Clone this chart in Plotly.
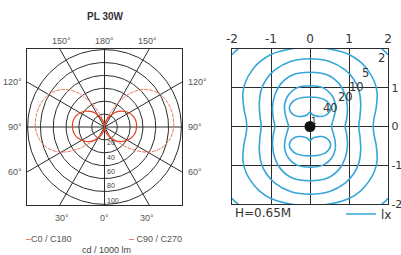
import numpy as np
import plotly.graph_objects as go

# ---------------- data: left chart (polar intensity, cd / 1000 lm) ----------------
angles_deg = [0, 10, 20, 30, 40, 50, 60, 70, 80, 90, 100, 110, 120, 130, 140, 150, 160, 170, 180]
c0_c180 = [0, 5, 12, 20, 28, 35, 41, 46, 49, 50, 50, 48, 44, 38, 31, 22, 13, 6, 0]
c90_c270 = [0, 3, 8, 15, 28, 52, 78, 95, 104, 108, 108, 106, 101, 90, 72, 45, 20, 6, 0]
ring_values = [20, 40, 60, 80, 100, 120]
ring_labels = ["20", "40", "60", "80", "100"]
spoke_angles = [0, 30, 60, 90, 120, 150, 180, 210, 240, 270, 300, 330]
R_MAX = 121

# ---------------- data: right chart (isolux, metres) ----------------
x_ticks = [-2, -1, 0, 1, 2]
x_ticktext = ["-2", "-1", "0", "1", "2"]
y_ticks = [-2, -1, 0, 1]
y_ticktext = ["-2", "-1", "0", "1"]
# upper-right quadrant of each isolux line (from x=0 at top to y=0 at the right)
c5_x = [0, 0.5, 1.0, 1.3, 1.5, 1.65, 1.72, 1.7, 1.64, 1.62]
c5_y = [2.04, 2.0, 1.86, 1.66, 1.43, 1.16, 0.88, 0.5, 0.2, 0]
c10_x = [0, 0.5, 0.9, 1.12, 1.25, 1.3, 1.28, 1.25]
c10_y = [1.75, 1.68, 1.46, 1.22, 0.95, 0.6, 0.25, 0]
c20_x = [0, 0.45, 0.75, 0.9, 0.96, 0.94, 0.9]
c20_y = [1.4, 1.33, 1.1, 0.82, 0.5, 0.2, 0]
c30_x = [0, 0.35, 0.55, 0.65, 0.64, 0.58, 0.55]
c30_y = [1.05, 0.99, 0.82, 0.58, 0.35, 0.12, 0]
# upper kidney (right half), from the notch at x=0 round to the top at x=0
c40_x = [0, 0.06, 0.15, 0.3, 0.42, 0.5, 0.53, 0.48, 0.36, 0.18, 0]
c40_y = [0.37, 0.31, 0.27, 0.26, 0.3, 0.38, 0.48, 0.6, 0.7, 0.75, 0.76]
# corner arc (top-right) of the 2 lx line
c2_x = [1.84, 1.92, 2.0]
c2_y = [2.0, 1.94, 1.85]
level_labels = ["2", "5", "10", "20", "40"]
level_label_x = [1.83, 1.43, 1.2, 0.91, 0.535]
level_label_y = [1.78, 1.38, 1.03, 0.77, 0.49]

RED = "#e2401f"
RED2 = "#ec7a5f"
BLUE = "#36a6d8"
GRID = "#2b2b2b"
LFONT = "Liberation Sans, Arial, sans-serif"
RFONT = "DejaVu Sans, Verdana, sans-serif"

W, H = 401, 255
fig = go.Figure()

# ---------- left chart: grid ----------
t = np.linspace(0, 2 * np.pi, 241)
cx, cy = [], []
for r in ring_values:
    cx += list(r * np.sin(t)) + [None]
    cy += list(r * np.cos(t)) + [None]
fig.add_trace(go.Scatter(x=cx, y=cy, mode="lines", line=dict(color=GRID, width=1),
                         hoverinfo="skip", showlegend=False, xaxis="x", yaxis="y"))
sx, sy = [], []
lab_annots = []
for a in spoke_angles:
    ar = np.radians(a)
    s, c = np.sin(ar), -np.cos(ar)
    L = R_MAX / max(abs(s), abs(c))
    sx += [0, L * s, None]
    sy += [0, L * c, None]
    txt = f"{min(a, 360 - a)}°"
    if abs(s) > abs(c) + 1e-6:
        side_right = s > 0
        lab_annots.append(dict(x=L * s, y=L * c, xref="x", yref="y", text=txt, showarrow=False,
                               xanchor="left" if side_right else "right",
                               xshift=4 if side_right else -3, yanchor="middle",
                               font=dict(family=LFONT, size=9, color="#555")))
    else:
        top = c > 0
        lab_annots.append(dict(x=L * s * 0.95, y=L * c, xref="x", yref="y", text=txt, showarrow=False,
                               xanchor="center", yanchor="bottom" if top else "top",
                               yshift=1 if top else -6,
                               font=dict(family=LFONT, size=9, color="#555")))
fig.add_trace(go.Scatter(x=sx, y=sy, mode="lines", line=dict(color=GRID, width=1),
                         hoverinfo="skip", showlegend=False, xaxis="x", yaxis="y"))

# ---------- left chart: curves ----------
def polar_full(angles, values):
    th = np.radians(np.concatenate([np.array(angles), 360 - np.array(angles)[::-1]]))
    rr = np.concatenate([np.array(values, float), np.array(values, float)[::-1]])
    return rr * np.sin(th), -rr * np.cos(th)

ox, oy = polar_full(angles_deg, c90_c270)
fig.add_trace(go.Scatter(x=ox, y=oy, mode="lines", name="C90 / C270",
                         line=dict(color=RED2, width=1, dash="4px,1px", shape="spline"),
                         showlegend=False, xaxis="x", yaxis="y"))
ix, iy = polar_full(angles_deg, c0_c180)
fig.add_trace(go.Scatter(x=ix, y=iy, mode="lines", name="C0 / C180",
                         line=dict(color=RED, width=1.2, shape="spline"),
                         showlegend=False, xaxis="x", yaxis="y"))

for i, (rv, rl) in enumerate(zip(ring_values, ring_labels)):
    lab_annots.append(dict(x=0, y=-rv, xref="x", yref="y", text=rl, showarrow=False,
                           xanchor="left", yanchor="middle", xshift=0, yshift=-(3 + 1.4 * i),
                           font=dict(family=LFONT, size=7, color="#444")))

# ---------- right chart: isolux lines ----------
def mirror4(qx, qy):
    qx, qy = np.array(qx, float), np.array(qy, float)
    x = np.concatenate([qx, qx[::-1][1:], -qx[1:], -qx[::-1][1:]])
    y = np.concatenate([qy, -qy[::-1][1:], -qy[1:], qy[::-1][1:]])
    return x, y

first = True
for qx, qy in [(c5_x, c5_y), (c10_x, c10_y), (c20_x, c20_y), (c30_x, c30_y)]:
    x, y = mirror4(qx, qy)
    fig.add_trace(go.Scatter(x=x, y=y, mode="lines", name="lx",
                             line=dict(color=BLUE, width=1.6, shape="spline"),
                             showlegend=first, xaxis="x2", yaxis="y2"))
    first = False

kx, ky = np.array(c40_x, float), np.array(c40_y, float)
for sgn in (1, -1):
    x = np.concatenate([kx, -kx[::-1][1:]])
    y = sgn * np.concatenate([ky, ky[::-1][1:]])
    fig.add_trace(go.Scatter(x=x, y=y, mode="lines", line=dict(color=BLUE, width=1.6, shape="spline"),
                             showlegend=False, xaxis="x2", yaxis="y2"))

ax_, ay_ = np.array(c2_x), np.array(c2_y)
for sxn, syn in [(1, 1), (-1, 1), (1, -1), (-1, -1)]:
    fig.add_trace(go.Scatter(x=sxn * ax_, y=syn * ay_, mode="lines",
                             line=dict(color=BLUE, width=1.6, shape="spline"),
                             showlegend=False, xaxis="x2", yaxis="y2"))

fig.add_trace(go.Scatter(x=[0], y=[0], mode="markers", marker=dict(color="#111", size=11),
                         showlegend=False, xaxis="x2", yaxis="y2"))

for txt, lx, ly in zip(level_labels, level_label_x, level_label_y):
    lab_annots.append(dict(x=lx, y=ly, xref="x2", yref="y2", text=txt, showarrow=False,
                           xanchor="center", yanchor="middle",
                           font=dict(family=RFONT, size=11.5, color="#333")))
lab_annots.append(dict(x=0.09, y=0.15, xref="x2", yref="y2", text="1", showarrow=False,
                       xanchor="center", yanchor="middle",
                       font=dict(family=RFONT, size=9, color="#333")))

# ---------- texts ----------
lab_annots += [
    dict(x=105 / W, y=1 - 16 / H, xref="paper", yref="paper", text="<b>PL 30W</b>", showarrow=False,
         xanchor="center", yanchor="middle", font=dict(family=LFONT, size=10, color="#333")),
    dict(x=24 / W, y=1 - 239 / H, xref="paper", yref="paper", xanchor="left", yanchor="middle",
         text=f"<span style='color:{RED}'>–</span>C0 / C180", showarrow=False,
         font=dict(family=LFONT, size=9, color="#555")),
    dict(x=127 / W, y=1 - 239 / H, xref="paper", yref="paper", xanchor="left", yanchor="middle",
         text=f"<span style='color:{RED}'>–</span> C90 / C270", showarrow=False,
         font=dict(family=LFONT, size=9, color="#555")),
    dict(x=107 / W, y=1 - 250 / H, xref="paper", yref="paper", xanchor="center", yanchor="middle",
         text="cd / 1000 lm", showarrow=False, font=dict(family=LFONT, size=9, color="#444")),
    dict(x=233 / W, y=1 - 213 / H, xref="paper", yref="paper", xanchor="left", yanchor="middle",
         text="H=0.65M", showarrow=False, font=dict(family=RFONT, size=12, color="#333")),
]

fig.update_layout(
    width=W, height=H, margin=dict(l=0, r=0, t=0, b=0, autoexpand=False),
    template="none", paper_bgcolor="white", plot_bgcolor="white",
    xaxis=dict(domain=[27 / W, 182 / W], range=[-R_MAX, R_MAX], showgrid=False, zeroline=False,
               showticklabels=False, ticks="", showline=True, mirror=True, linecolor=GRID, linewidth=1,
               automargin=False, fixedrange=True),
    yaxis=dict(domain=[1 - 205 / H, 1 - 49 / H], range=[-R_MAX, R_MAX], showgrid=False, zeroline=False,
               showticklabels=False, ticks="", showline=True, mirror=True, linecolor=GRID, linewidth=1,
               automargin=False, fixedrange=True),
    xaxis2=dict(domain=[232 / W, 388 / W], range=[-2, 2], side="top", anchor="y2",
                tickvals=x_ticks, ticktext=x_ticktext, showgrid=True, gridcolor=GRID, gridwidth=1.4,
                zeroline=False, ticks="", showline=True, mirror=True, linecolor=GRID, linewidth=1.4,
                tickfont=dict(family=RFONT, size=12, color="#333"), automargin=False, fixedrange=True),
    yaxis2=dict(domain=[1 - 204 / H, 1 - 49 / H], range=[-2, 2], side="right", anchor="x2",
                tickvals=y_ticks, ticktext=y_ticktext, showgrid=True, gridcolor=GRID, gridwidth=1.4,
                zeroline=False, ticks="", showline=True, mirror=True, linecolor=GRID, linewidth=1.4,
                tickfont=dict(family=RFONT, size=11, color="#333"), automargin=False, fixedrange=True),
    showlegend=True,
    legend=dict(x=341 / W, y=1 - 214 / H, xanchor="left", yanchor="middle", orientation="h",
                bgcolor="rgba(0,0,0,0)", font=dict(family=RFONT, size=12, color="#333"),
                borderwidth=0, tracegroupgap=0),
    annotations=lab_annots,
)

fig.write_html("out.html", config={"displayModeBar": False},
               post_script="document.body.style.margin='0px';")
